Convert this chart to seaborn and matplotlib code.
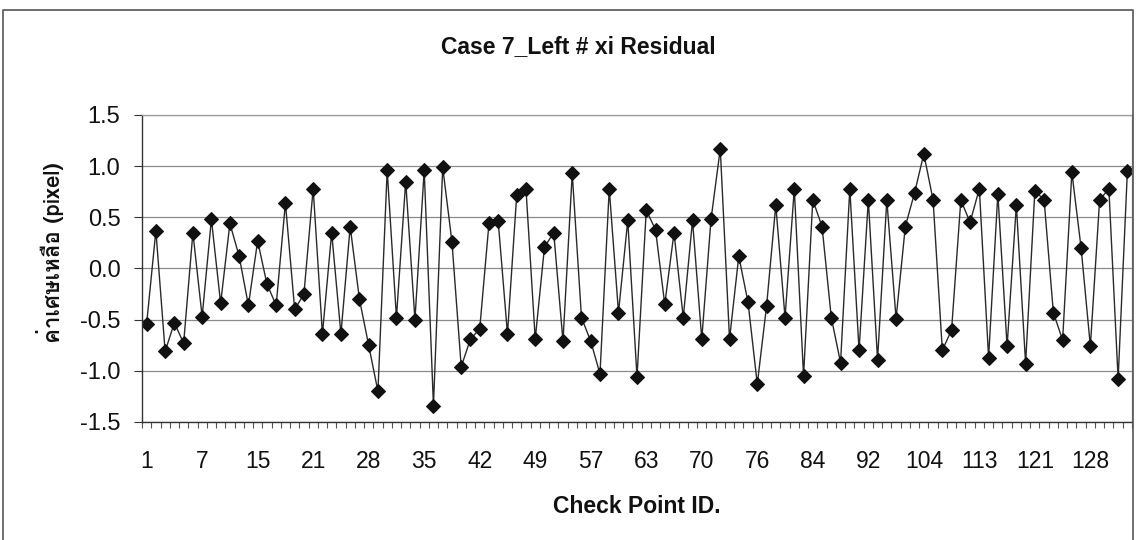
import numpy as np
import pandas as pd
import matplotlib
matplotlib.use("Agg")
import matplotlib.pyplot as plt
import seaborn as sns
from matplotlib import font_manager
from matplotlib.ft2font import FT2Font
from matplotlib.lines import Line2D

# ---------------- data ----------------
title = "Case 7_Left # xi Residual"
x_label = "Check Point ID."
y_label = "ค่าเศษเหลือ (pixel)"

residuals = [
    -0.54, 0.37, -0.81, -0.53, -0.73, 0.35, -0.47, 0.48, -0.34, 0.44,
    0.12, -0.36, 0.27, -0.15, -0.36, 0.64, -0.40, -0.25, 0.78, -0.64,
    0.35, -0.64, 0.41, -0.30, -0.75, -1.20, 0.96, -0.48, 0.85, -0.50,
    0.96, -1.34, 0.99, 0.26, -0.96, -0.69, -0.59, 0.44, 0.46, -0.64,
    0.72, 0.78, -0.69, 0.21, 0.35, -0.71, 0.93, -0.48, -0.71, -1.03,
    0.78, -0.43, 0.47, -1.06, 0.57, 0.38, -0.35, 0.35, -0.48, 0.47,
    -0.69, 0.48, 1.17, -0.69, 0.12, -0.33, -1.13, -0.37, 0.62, -0.48,
    0.78, -1.05, 0.67, 0.41, -0.48, -0.92, 0.78, -0.80, 0.67, -0.89,
    0.67, -0.49, 0.41, 0.74, 1.12, 0.67, -0.80, -0.60, 0.67, 0.45,
    0.78, -0.87, 0.73, -0.76, 0.62, -0.93, 0.76, 0.67, -0.43, -0.70,
    0.94, 0.20, -0.76, 0.67, 0.78, -1.08, 0.95,
]
tick_labels = ["1", "7", "15", "21", "28", "35", "42", "49", "57", "63",
               "70", "76", "84", "92", "104", "113", "121", "128"]
label_every = 6
y_ticks = [-1.5, -1.0, -0.5, 0.0, 0.5, 1.0, 1.5]

df = pd.DataFrame({"pos": np.arange(len(residuals)), "residual": residuals})

# ---------------- fonts ----------------
def find_font(codepoints):
    best = None
    for f in font_manager.fontManager.ttflist:
        try:
            cm = FT2Font(f.fname).get_charmap()
        except Exception:
            continue
        if all(c in cm for c in codepoints):
            if f.weight in ("bold", 700):
                return f.name
            best = best or f.name
    return best

thai_font = find_font([0x0E04, 0x0E48, 0x0E32, 0x0E40, 0x0E29])

sns.set_theme(style="white")
plt.rcParams["font.family"] = ["Liberation Sans", "DejaVu Sans"]
base_fam = ["Liberation Sans", "DejaVu Sans"]

W, H = 1136, 540
fig = plt.figure(figsize=(W / 100, H / 100), dpi=100)
fig.patch.set_facecolor("white")
ax = fig.add_axes([142 / W, 1 - 422 / H, (1132 - 142) / W, (422 - 115) / H])

sns.lineplot(data=df, x="pos", y="residual", ax=ax, color="#2a2a2a",
             linewidth=1.0, marker="D", markersize=7,
             markerfacecolor="#111111", markeredgecolor="#111111")

ax.set_xlim(-0.5, len(residuals) - 0.5)
ax.set_ylim(-1.5, 1.5)
ax.set_yticks(y_ticks)
ax.set_yticklabels([f"{v:.1f}" for v in y_ticks], fontsize=17, family=base_fam)

major_pos = np.arange(0, len(residuals), label_every)[:len(tick_labels)]
ax.set_xticks(major_pos)
ax.set_xticklabels(tick_labels, fontsize=16.5, family=base_fam)
ax.set_xticks(np.arange(-0.5, len(residuals), 1.0), minor=True)
ax.tick_params(axis="x", which="major", length=0, pad=20, labelcolor="#111111")
ax.tick_params(axis="x", which="minor", length=4, width=0.8, direction="out",
               color="#555555", bottom=True)
ax.tick_params(axis="y", which="major", length=5.5, width=0.8, direction="out",
               color="#333333", left=True, pad=10, labelcolor="#111111")

for y in y_ticks:
    ax.axhline(y, color="#8a8a8a", linewidth=0.9, zorder=0)

for side in ("left", "bottom"):
    ax.spines[side].set_color("#333333")
    ax.spines[side].set_linewidth(1.0)
for side in ("top", "right"):
    ax.spines[side].set_color("#9a9a9a")
    ax.spines[side].set_linewidth(0.9)

ax.set_xlabel("")
ax.set_ylabel("")

# axis titles and chart title
fig.text(637 / W, 1 - 513 / H, x_label, ha="center", va="baseline",
         fontsize=16.5, fontweight="bold", color="#111111", family=base_fam)
yfam = [thai_font, "DejaVu Sans"] if thai_font else ["DejaVu Sans"]
fig.text(50 / W, 1 - 253 / H, y_label, ha="center", va="center", rotation=90,
         fontsize=16, fontweight="bold", color="#111111", family=yfam)
fig.text(578 / W, 1 - 53 / H, title, ha="center", va="baseline",
         fontsize=16.5, fontweight="bold", color="#111111", family=base_fam)

# chart area frame
xs = [3 / W, 3 / W, 1133 / W, 1133 / W]
ys = [0, 1 - 10 / H, 1 - 10 / H, 0]
fig.add_artist(Line2D(xs, ys, transform=fig.transFigure, color="#555555", linewidth=1.2))

fig.savefig("out.png", dpi=100, facecolor="white")
